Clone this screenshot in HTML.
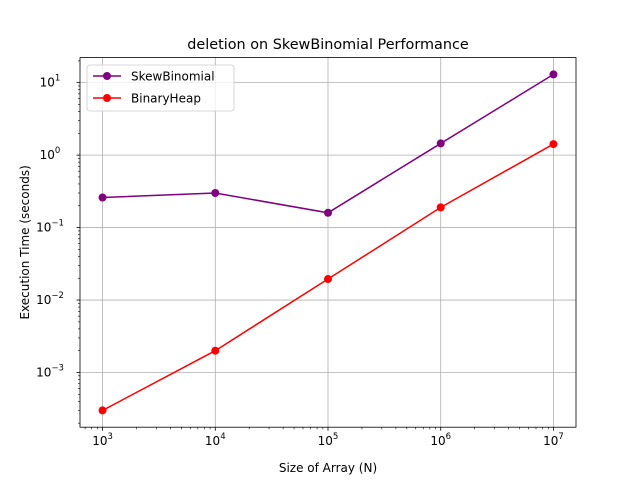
<!DOCTYPE html>
<html><head><meta charset="utf-8"><style>body{margin:0;background:#fff}svg{display:block}text{font-family:"DejaVu Sans","Liberation Sans",sans-serif}</style></head>
<body>
<svg id="c" width="640" height="480" viewBox="0 0 640 480"></svg>
<script>
const categories=[1e3,1e4,1e5,1e6,1e7];
const skewValues=[0.26,0.30,0.16,1.45,13];
const heapValues=[0.0003,0.002,0.0195,0.19,1.42];
const xTickLabels=["3","4","5","6","7"];
const yTickLabels=["-3","-2","-1","0","1"];
const L=80,R=576,T=57.6,B=427.2;
const all=skewValues.concat(heapValues).map(Math.log10);
let ymn=Math.min(...all),ymx=Math.max(...all),yr=ymx-ymn;ymn-=yr*0.05;ymx+=yr*0.05;
let xl=categories.map(Math.log10),xmn=Math.min(...xl),xmx=Math.max(...xl),xr=xmx-xmn;xmn-=xr*0.05;xmx+=xr*0.05;
const X=v=>L+(Math.log10(v)-xmn)/(xmx-xmn)*(R-L);
const Y=v=>B-(Math.log10(v)-ymn)/(ymx-ymn)*(B-T);
const s=document.getElementById('c');const NS="http://www.w3.org/2000/svg";
function el(t,a,txt){const e=document.createElementNS(NS,t);for(const k in a)e.setAttribute(k,a[k]);if(txt!==undefined)e.textContent=txt;s.appendChild(e);return e;}
// grid & ticks
xTickLabels.forEach(p=>{const v=Math.pow(10,+p),x=X(v);
const g=el('line',{x1:x,x2:x,y1:T,y2:B,stroke:'#b0b0b0','stroke-width':0.8});
el('line',{x1:x,x2:x,y1:B,y2:B+3.5,stroke:'#000','stroke-width':0.8});
const t=el('text',{x:x,y:B+18,'font-size':12,'text-anchor':'middle'});
t.innerHTML='10<tspan dy="-6" font-size="8.5">'+p+'</tspan>';});
yTickLabels.forEach(p=>{const v=Math.pow(10,+p),y=Y(v);
const g=el('line',{x1:L,x2:R,y1:y,y2:y,stroke:'#b0b0b0','stroke-width':0.8});
el('line',{x1:L-3.5,x2:L,y1:y,y2:y,stroke:'#000','stroke-width':0.8});
const t=el('text',{x:L-30,y:y+4,'font-size':12,'text-anchor':'middle'});
t.innerHTML='10<tspan dy="-6" font-size="8.5">'+(p.startsWith('-')?'\u2212'+p.slice(1):p)+'</tspan>';});
for(let d=2;d<=7;d++)for(let m=2;m<10;m++){const v=m*Math.pow(10,d);if(Math.log10(v)<xmn||Math.log10(v)>xmx)continue;const x=X(v);el('line',{x1:x,x2:x,y1:B,y2:B+2,stroke:'#000','stroke-width':0.6});}
for(let d=-4;d<=1;d++)for(let m=2;m<10;m++){const v=m*Math.pow(10,d);if(Math.log10(v)<ymn||Math.log10(v)>ymx)continue;const y=Y(v);el('line',{x1:L-2,x2:L,y1:y,y2:y,stroke:'#000','stroke-width':0.6});}
function series(vals,color,name){const p=vals.map((v,i)=>X(categories[i])+','+Y(v)).join(' ');
const l=el('polyline',{points:p,fill:'none',stroke:color,'stroke-width':1.5});
vals.forEach((v,i)=>{const c=el('circle',{cx:X(categories[i]),cy:Y(v),r:4,fill:color});});}
series(skewValues,'purple','skewbinomial');series(heapValues,'red','binaryheap');
const f=el('rect',{x:L,y:T,width:R-L,height:B-T,fill:'none',stroke:'#000','stroke-width':0.8});
const ti=el('text',{x:(L+R)/2,y:49,'font-size':14.4,'text-anchor':'middle'},'deletion on SkewBinomial Performance');
const xt=el('text',{x:(L+R)/2,y:472,'font-size':12,'text-anchor':'middle'},'Size of Array (N)');
const yt=el('text',{x:29,y:(T+B)/2,'font-size':12,'text-anchor':'middle',transform:'rotate(-90 29 '+(T+B)/2+')'},'Execution Time (seconds)');
const lg=el('rect',{x:87,y:65,width:147,height:46,rx:3,fill:'#fff','fill-opacity':0.8,stroke:'#ccc','stroke-width':0.8});
[['SkewBinomial','purple',76],['BinaryHeap','red',98]].forEach(([n,c,y])=>{
el('line',{x1:93,x2:121,y1:y,y2:y,stroke:c,'stroke-width':1.5});el('circle',{cx:107,cy:y,r:4,fill:c});
const t=el('text',{x:131,y:y+4.5,'font-size':12},n);});
</script>
</body></html>
